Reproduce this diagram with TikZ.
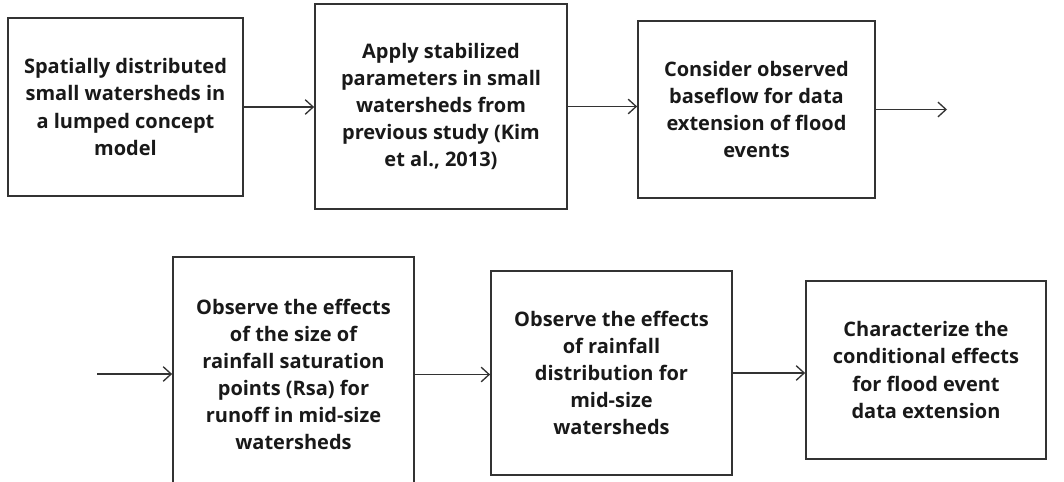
\documentclass[tikz,border=0pt]{standalone}
\usepackage{fontspec}
\setmainfont{Open Sans}
\usetikzlibrary{arrows.meta}
\begin{document}
\begin{tikzpicture}[x=0.75pt,y=-0.75pt,
  stepbox/.style={draw=black!80,line width=1.3pt,align=center,inner sep=0pt,
    font=\fontsize{15}{20.3}\selectfont\bfseries,text=black!90},
  flow/.style={draw=black!80,line width=1pt,-{Straight Barb[length=6pt,width=11pt,line width=1pt]}}]
\useasboundingbox (0,0) rectangle (1064,482);
\begin{scope}
\clip (0,0) rectangle (1064,482);
% upper row
\node[stepbox,minimum width=176.25pt,minimum height=133.5pt] (b1) at (125.5,107)
  {Spatially distributed\\small watersheds in\\a lumped concept\\model};
\node[stepbox,minimum width=189pt,minimum height=153.75pt] (b2) at (441,106.5)
  {Apply stabilized\\parameters in small\\watersheds from\\previous study (Kim\\et al., 2013)};
\node[stepbox,minimum width=177.75pt,minimum height=132.75pt] (b3) at (756.5,109.5)
  {Consider observed\\baseflow for data\\extension of flood\\events};
% lower row
\node[stepbox,minimum width=180.75pt,minimum height=176.25pt] (b4) at (293.5,374.5)
  {Observe the effects\\of the size of\\rainfall saturation\\points (Rsa) for\\runoff in mid-size\\watersheds};
\node[stepbox,minimum width=180.75pt,minimum height=153pt] (b5) at (611.5,373)
  {Observe the effects\\of rainfall\\distribution for\\mid-size\\watersheds};
\node[stepbox,minimum width=180pt,minimum height=133.5pt] (b6) at (926,370)
  {Characterize the\\conditional effects\\for flood event\\data extension};
\coordinate (out) at (947,110);
\coordinate (in) at (97,374);
% connectors
\draw[flow] (b1.east) -- (b1.east -| b2.west);
\draw[flow] (b2.east) -- (b2.east -| b3.west);
\draw[flow] (b3.east) -- (b3.east -| out);
\draw[flow] (in) -- (in -| b4.west);
\draw[flow] (b4.east) -- (b4.east -| b5.west);
\draw[flow] (b5.east) -- (b5.east -| b6.west);
\end{scope}
\end{tikzpicture}
\end{document}
